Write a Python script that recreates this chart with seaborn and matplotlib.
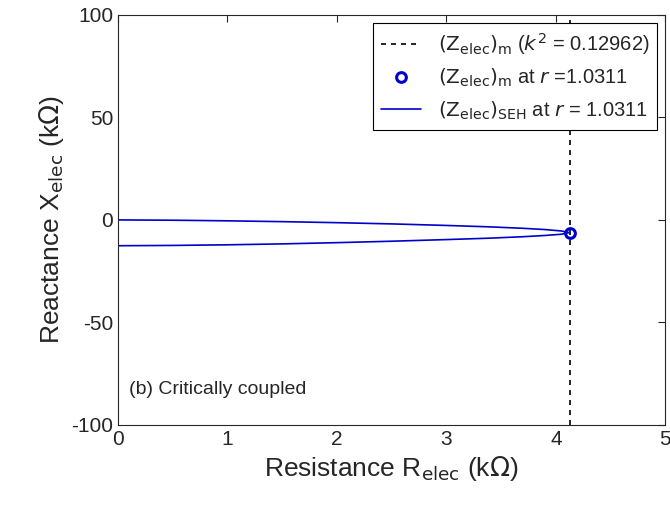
import matplotlib
matplotlib.use("Agg")
import matplotlib.pyplot as plt
import seaborn as sns
import numpy as np

sns.set_style("white")
plt.rcParams['font.family'] = ['Liberation Sans', 'DejaVu Sans']
plt.rcParams['axes.unicode_minus'] = False

# SEH locus
r_upper = [0.0, 0.5, 1.0, 1.5, 2.0, 2.5, 3.0, 3.4, 3.7, 3.9, 4.05, 4.12]
x_upper = [0.0, -0.15, -0.45, -0.85, -1.35, -1.95, -2.7, -3.4, -4.1, -4.7, -5.4, -6.2]
r_lower = [4.12, 4.05, 3.9, 3.7, 3.4, 3.0, 2.5, 2.0, 1.5, 1.0, 0.5, 0.0]
x_lower = [-6.2, -7.0, -7.6, -8.2, -8.9, -9.6, -10.4, -11.1, -11.7, -12.15, -12.45, -12.6]
r_m = 4.13
x_m = -6.3

fig, ax = plt.subplots(figsize=(6.7, 5.15), dpi=100)
fig.subplots_adjust(left=0.176, right=0.993, top=0.971, bottom=0.175)

ax.axvline(r_m, color='black', ls=(0, (3, 3)), lw=1.2,
           label=r'$(\mathrm{Z_{elec}})_\mathrm{m}$ ($k^2$ = 0.12962)')
ax.plot([r_m], [x_m], 'o', mfc='none', mec='#0000cc', mew=2.2, ms=7, ls='none',
        label=r'$(\mathrm{Z_{elec}})_\mathrm{m}$ at $r$ =1.0311')
r_all = r_upper + r_lower[1:]
x_all = x_upper + x_lower[1:]
sns.lineplot(x=r_all, y=x_all, sort=False, estimator=None, ax=ax, color='#0000cc', lw=1.2,
             label=r'$(\mathrm{Z_{elec}})_\mathrm{SEH}$ at $r$ = 1.0311')

ax.set_xlim(0, 5)
ax.set_ylim(-100, 100)
ax.set_xticks(range(0, 6))
ax.set_yticks([-100, -50, 0, 50, 100])
ax.tick_params(labelsize=15, direction='in', length=5, top=True, right=True)
for s in ax.spines.values():
    s.set_color('#262626'); s.set_linewidth(0.8)
ax.set_xlabel(r'Resistance R$_\mathrm{elec}$ (k$\Omega$)', fontsize=19)
ax.set_ylabel(r'Reactance X$_\mathrm{elec}$ (k$\Omega$)', fontsize=19)
ax.text(0.1, -85, '(b) Critically coupled', fontsize=14)
leg = ax.legend(loc='upper right', fontsize=14.5, frameon=True, fancybox=False,
                edgecolor='black', framealpha=1, borderaxespad=0.4)
leg.get_frame().set_linewidth(0.8)
fig.savefig('out.png', dpi=100)
